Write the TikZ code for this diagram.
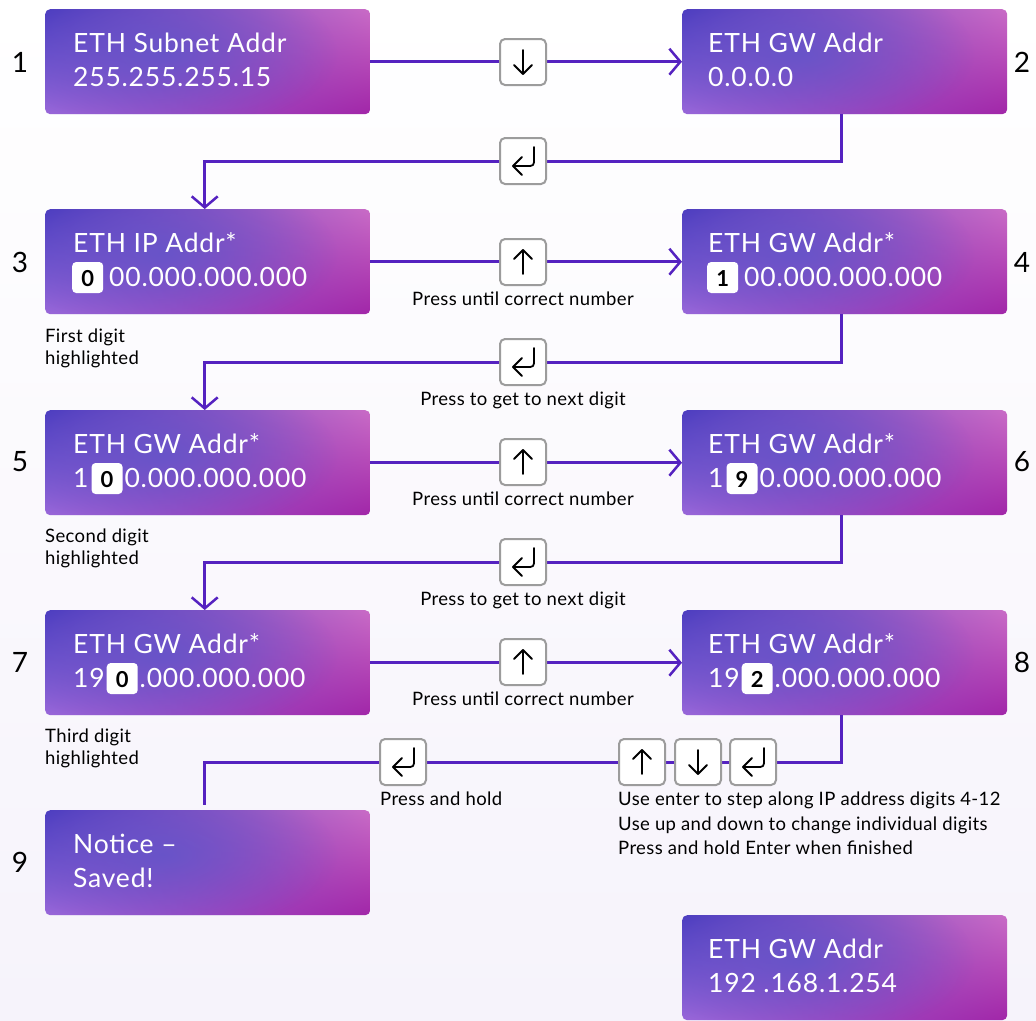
\documentclass[tikz,border=0pt]{standalone}
\usepackage{fontspec}
\setmainfont{Lato}
\newfontfamily\ttlfont[LetterSpace=3]{Lato}
\newfontfamily\lblfont[LetterSpace=2]{Lato}
\usetikzlibrary{arrows.meta,calc,shadings,fadings}
\definecolor{lc}{HTML}{5522C0}
\definecolor{cul}{HTML}{4B3BBF}
\definecolor{cur}{HTML}{C96BC6}
\definecolor{cll}{HTML}{9A68DA}
\definecolor{clr}{HTML}{A126A8}
\definecolor{cblue}{HTML}{5E56CA}
\definecolor{keyb}{HTML}{9C9C9C}
\definecolor{bgb}{HTML}{F6F3FB}
\tikzfading[name=blobfade, inner color=transparent!0, outer color=transparent!100]
\newcommand\hlbox[1]{\tikz[baseline=(h.base)]\node[hl](h){#1};}
\newcommand\blob[1]{\begin{scope}
  \clip[rounded corners=5pt] (#1.south west) rectangle (#1.north east);
  \fill[cblue, path fading=blobfade, opacity=.75] ($(#1.center)+(-45,-8)$) ellipse (175 and 80);
  \end{scope}}
\tikzset{
  screen/.style={shading=bilinear interpolation, upper left=cul, upper right=cur,
    lower left=cll, lower right=clr, rounded corners=5pt, minimum width=325pt,
    minimum height=105pt, inner sep=0pt, anchor=north west},
  ttl/.style={anchor=base west, text=white, inner sep=0pt, font=\ttlfont\fontsize{26.5}{30}\selectfont},
  hl/.style={fill=white, rounded corners=4pt, text=black, inner sep=0pt,
    minimum width=31pt, text height=24pt, text depth=7pt, font=\rmfamily\fontsize{22}{24}\bfseries},
  num/.style={text=black, inner sep=0pt, font=\fontsize{28}{30}\selectfont},
  lbl/.style={text=black, inner sep=0pt, font=\lblfont\fontsize{18.5}{21}\selectfont},
  keybox/.style={draw=keyb, line width=2pt, fill=white, rounded corners=5pt,
    minimum width=46pt, minimum height=46pt, inner sep=0pt},
  conn/.style={draw=lc, line width=2.5pt},
  tipp/.style={-{Straight Barb[length=11pt,width=26pt]}},
  icon/.style={draw=black, line width=1.8pt, line cap=round, line join=round},
  kup/.pic={\draw[icon] (0,12) -- (0,-12); \draw[icon] (-9,-3) -- (0,-12) -- (9,-3);},
  kdown/.pic={\draw[icon] (0,-12) -- (0,12); \draw[icon] (-9,3) -- (0,12) -- (9,3);},
  kenter/.pic={\draw[icon] (11,-14) -- (11,-3) .. controls (11,5) .. (3,5) -- (-10,5);
    \draw[icon] (-1,-4) -- (-10,5) -- (-1,14);},
}
\begin{document}
\begin{tikzpicture}[x=1pt,y=-1pt]
\shade[top color=white, bottom color=bgb] (0,0) rectangle (1036,1020);
\useasboundingbox (0,0) rectangle (1036,1020);

% screens
\node[screen] (b1) at (45,9) {};
\node[screen] (b2) at (682,9) {};
\node[screen] (b3) at (45,209) {};
\node[screen] (b4) at (682,209) {};
\node[screen] (b5) at (45,410) {};
\node[screen] (b6) at (682,410) {};
\node[screen] (b7) at (45,610) {};
\node[screen] (b8) at (682,610) {};
\node[screen] (b9) at (45,810) {};
\node[screen] (b10) at (682,915) {};
\blob{b1}\blob{b2}\blob{b3}\blob{b4}\blob{b5}\blob{b6}\blob{b7}\blob{b8}\blob{b9}\blob{b10}

% connectors
\draw[conn,tipp] (b1.east) -- (b2.west);
\draw[conn,tipp] ([xshift=-3pt]b2.south) -- ++(0,47) -| ([xshift=-3pt]b3.north);
\draw[conn,tipp] (b3.east) -- (b4.west);
\draw[conn,tipp] ([xshift=-3pt]b4.south) -- ++(0,48) -| ([xshift=-3pt]b5.north);
\draw[conn,tipp] (b5.east) -- (b6.west);
\draw[conn,tipp] ([xshift=-3pt]b6.south) -- ++(0,47) -| ([xshift=-3pt]b7.north);
\draw[conn,tipp] (b7.east) -- (b8.west);
\draw[conn] ([xshift=-3pt]b8.south) -- ++(0,47) -| ([xshift=-3pt,yshift=5pt]b9.north);

% keys
\node[keybox] (k1) at (523,62) {};   \pic at (k1.center) {kdown};
\node[keybox] (k2) at (523,161) {};  \pic at (k2.center) {kenter};
\node[keybox] (k3) at (523,262) {};  \pic at (k3.center) {kup};
\node[keybox] (k4) at (523,362) {};  \pic at (k4.center) {kenter};
\node[keybox] (k5) at (523,462) {};  \pic at (k5.center) {kup};
\node[keybox] (k6) at (523,562) {};  \pic at (k6.center) {kenter};
\node[keybox] (k7) at (523,662) {};  \pic at (k7.center) {kup};
\node[keybox] (k8) at (403,762) {};  \pic at (k8.center) {kenter};
\node[keybox] (k9) at (642,762) {};  \pic at (k9.center) {kup};
\node[keybox] (k10) at (698,762) {}; \pic at (k10.center) {kdown};
\node[keybox] (k11) at (753,762) {}; \pic at (k11.center) {kenter};

% screen texts
\node[ttl] (t1a) at ($(b1.north west)+(28,43)$) {ETH Subnet Addr};
\node[ttl] (t1b) at ($(b1.north west)+(28,77)$) {255.255.255.15};
\node[ttl] (t2a) at ($(b2.north west)+(26,43)$) {ETH GW Addr};
\node[ttl] (t2b) at ($(b2.north west)+(26,77)$) {0.0.0.0};
\node[ttl] (t3a) at ($(b3.north west)+(28,43)$) {ETH IP Addr*};
\node[ttl] (t3b) at ($(b3.north west)+(27,77)$) {\hlbox{0}\hspace{6pt}00.000.000.000};
\node[ttl] (t4a) at ($(b4.north west)+(26,43)$) {ETH GW Addr*};
\node[ttl] (t4b) at ($(b4.north west)+(25,77)$) {\hlbox{1}\hspace{6pt}00.000.000.000};
\node[ttl] (t5a) at ($(b5.north west)+(28,43)$) {ETH GW Addr*};
\node[ttl] (t5b) at ($(b5.north west)+(28,77)$) {1\hspace{3pt}\hlbox{0}\hspace{2pt}0.000.000.000};
\node[ttl] (t6a) at ($(b6.north west)+(26,43)$) {ETH GW Addr*};
\node[ttl] (t6b) at ($(b6.north west)+(26,77)$) {1\hspace{3pt}\hlbox{9}\hspace{2pt}0.000.000.000};
\node[ttl] (t7a) at ($(b7.north west)+(28,43)$) {ETH GW Addr*};
\node[ttl] (t7b) at ($(b7.north west)+(28,77)$) {19\hspace{2pt}\hlbox{0}\hspace{2pt}.000.000.000};
\node[ttl] (t8a) at ($(b8.north west)+(26,43)$) {ETH GW Addr*};
\node[ttl] (t8b) at ($(b8.north west)+(26,77)$) {19\hspace{2pt}\hlbox{2}\hspace{2pt}.000.000.000};
\node[ttl] (t9a) at ($(b9.north west)+(28,43)$) {Notice –};
\node[ttl] (t9b) at ($(b9.north west)+(28,77)$) {Saved!};
\node[ttl] (t10a) at ($(b10.north west)+(26,43)$) {ETH GW Addr};
\node[ttl] (t10b) at ($(b10.north west)+(26,77)$) {192 .168.1.254};

% step numbers
\node[num] (n1) at (20,62) {1};
\node[num] (n2) at (1022,62) {2};
\node[num] (n3) at (20,262) {3};
\node[num] (n4) at (1022,262) {4};
\node[num] (n5) at (20,462) {5};
\node[num] (n6) at (1022,462) {6};
\node[num] (n7) at (20,662) {7};
\node[num] (n8) at (1022,662) {8};
\node[num] (n9) at (20,862) {9};

% labels
\node[lbl, anchor=base] (l1) at (523,305) {Press until correct number};
\node[lbl, anchor=base] (l2) at (523,405) {Press to get to next digit};
\node[lbl, anchor=base] (l3) at (523,505) {Press until correct number};
\node[lbl, anchor=base] (l4) at (523,605) {Press to get to next digit};
\node[lbl, anchor=base] (l5) at (523,705) {Press until correct number};
\node[lbl, anchor=base west] (l6) at (380,805) {Press and hold};
\node[lbl, anchor=base west] (l7) at (618,805) {Use enter to step along IP address digits 4-12};
\node[lbl, anchor=base west] (l8) at (618,830) {Use up and down to change individual digits};
\node[lbl, anchor=base west] (l9) at (618,854) {Press and hold Enter when finished};
\node[lbl, anchor=base west] (s3a) at (45,342) {First digit};
\node[lbl, anchor=base west] (s3b) at (45,364) {highlighted};
\node[lbl, anchor=base west] (s5a) at (45,542) {Second digit};
\node[lbl, anchor=base west] (s5b) at (45,564) {highlighted};
\node[lbl, anchor=base west] (s7a) at (45,742) {Third digit};
\node[lbl, anchor=base west] (s7b) at (45,764) {highlighted};
\end{tikzpicture}
\end{document}
